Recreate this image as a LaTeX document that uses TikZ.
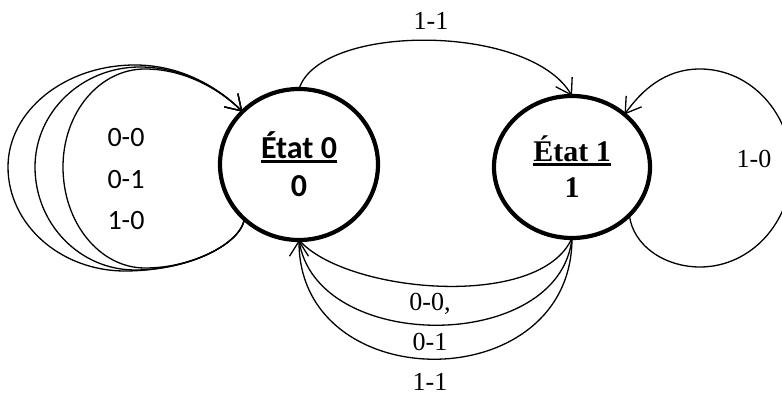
\documentclass[tikz,border=0pt]{standalone}
\usepackage{fontspec}
\setmainfont{Liberation Serif}
\newfontfamily\carlfont{Carlito}
\usetikzlibrary{shapes.geometric,arrows.meta}
\newcommand{\myul}[1]{\setbox0\hbox{#1}\rlap{\rule[-4pt]{\wd0}{2.4pt}}\box0}
\begin{document}
\begin{tikzpicture}[x=1pt,y=1pt,
  state/.style={draw, ellipse, line width=4.2pt, inner sep=0pt, outer sep=0pt, align=center},
  conn/.style={line width=1.3pt},
  arr/.style={conn, -{Straight Barb[length=15pt,width=19pt]}},
  lab/.style={font=\fontsize{26}{30}\selectfont, inner sep=0pt},
  clab/.style={font=\carlfont\fontsize{28}{32}\selectfont, inner sep=0pt}]
\useasboundingbox (0,0) rectangle (782,396);
\node[state, minimum width=158pt, minimum height=151pt, font=\carlfont\bfseries\fontsize{32}{38}\selectfont] (s0) at (299,231.5) {\myul{État 0}\\0};
\node[state, minimum width=156pt, minimum height=142pt, font=\bfseries\fontsize{30}{36}\selectfont] (s1) at (572,229) {\myul{État 1}\\1};
% self loops on state 0
\draw[arr] (s0.225) .. controls (240,150) and (185,125) .. (125,125)
  .. controls (60.4,125) and (8,171.6) .. (8,229)
  .. controls (8,285.3) and (64.9,331) .. (135,331)
  .. controls (185,331) and (222,305) .. (s0.137);
\draw[arr] (s0.225) .. controls (240,152) and (190,126) .. (135,126)
  .. controls (79.8,126) and (35,172.1) .. (35,229)
  .. controls (35,284.2) and (82,329) .. (140,329)
  .. controls (187,329) and (224,303) .. (s0.137);
\draw[arr] (s0.225) .. controls (241,154) and (195,128) .. (145,128)
  .. controls (99.7,128) and (63,173.2) .. (63,229)
  .. controls (63,283.7) and (99.7,327) .. (145,327)
  .. controls (190,327) and (226,301) .. (s0.137);
\node[clab] (l00) at (126,258) {0-0};
\node[clab] (l01) at (126,216) {0-1};
\node[clab] (l10) at (126,175) {1-0};
% top arc
\draw[arr] (s0.north) .. controls (320,373) and (530,373) .. (s1.north);
\node[lab] (t11) at (431,375) {1-1};
% bottom arcs
\draw[conn] (s1.south) .. controls (540,85) and (345,103) .. (s0.south);
\draw[conn] (s1.south) .. controls (560,42) and (315,42) .. (s0.south);
\draw[arr] (s1.south) .. controls (572,-3) and (299,-3) .. (s0.south);
\node[lab] (b00) at (430,92) {0-0,};
\node[lab] (b01) at (430,54) {0-1};
\node[lab] (b11) at (430,14) {1-1};
% self loop on state 1
\coordinate (rb) at (700,129);
\coordinate (rr) at (791.5,228);
\coordinate (rt) at (700,327);
\draw[arr] (s1.320) .. controls (633,150) and (665,129) .. (rb)
  .. controls (750.5,129) and (791.5,173.3) .. (rr)
  .. controls (791.5,282.7) and (750.5,327) .. (rt)
  .. controls (665,327) and (642,306) .. (s1.45);
\node[lab] (r10) at (754,237) {1-0};
\end{tikzpicture}
\end{document}
